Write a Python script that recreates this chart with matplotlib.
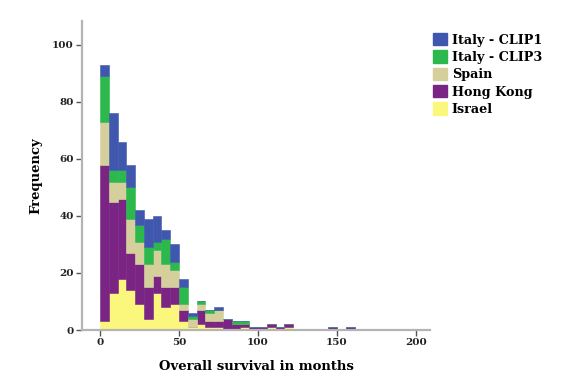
import numpy as np
import matplotlib
matplotlib.use("Agg")
import matplotlib.pyplot as plt
from matplotlib.patches import Patch

# Histogram bins (SPSS-style: 36 bins over 0-200 months)
bin_edges = np.linspace(0, 200, 37)

series_names = ["Italy - CLIP1", "Italy - CLIP3", "Spain", "Hong Kong", "Israel"]
colors = {"Italy - CLIP1": "#3f58ad", "Italy - CLIP3": "#2cb84c", "Spain": "#d5cf9b",
          "Hong Kong": "#7a2483", "Israel": "#fbf77c"}

israel = [3, 13, 18, 14, 9, 4, 13, 8, 9, 3, 1, 2, 1, 1, 0, 0, 1, 0, 0, 1, 0, 1, 0, 0, 0, 0, 0, 0, 0]
hong_kong = [55, 32, 28, 13, 14, 11, 6, 7, 6, 4, 0, 5, 2, 2, 4, 2, 1, 1, 1, 1, 1, 1, 0, 0, 0, 0, 1, 0, 1]
spain = [15, 7, 6, 12, 8, 8, 9, 8, 6, 2, 3, 2, 3, 4, 0, 0, 0, 0, 0, 0, 0, 0, 0, 0, 0, 0, 0, 0, 0]
clip3 = [16, 4, 4, 11, 6, 6, 3, 9, 3, 6, 1, 1, 1, 0, 0, 1, 1, 0, 0, 0, 0, 0, 0, 0, 0, 0, 0, 0, 0]
clip1 = [4, 20, 10, 8, 5, 10, 9, 3, 6, 3, 1, 0, 0, 1, 0, 0, 0, 0, 0, 0, 0, 0, 0, 0, 0, 0, 0, 0, 0]

x_ticks = [0, 50, 100, 150, 200]
y_ticks = [0, 20, 40, 60, 80, 100]

stack = [("Israel", israel), ("Hong Kong", hong_kong), ("Spain", spain),
         ("Italy - CLIP3", clip3), ("Italy - CLIP1", clip1)]

fig = plt.figure(figsize=(5.66, 3.77), dpi=100)
ax = fig.add_axes([82/566, 1-330/377, (430-82)/566, (330-21)/377])

width = bin_edges[1] - bin_edges[0]
n = len(israel)
lefts = bin_edges[:n]
bottom = np.zeros(n)
for name, vals in stack:
    v = np.array(vals, dtype=float)
    ax.bar(lefts, v, width=width, bottom=bottom, align="edge", color=colors[name],
           edgecolor=colors[name], linewidth=0.4)
    bottom += v

ax.set_xlim(-11.4, 208.9)
ax.set_ylim(0, 108.4)
ax.set_xticks(x_ticks)
ax.set_yticks(y_ticks)

for s in ["top", "right"]:
    ax.spines[s].set_visible(False)
for s in ["left", "bottom"]:
    ax.spines[s].set_color("#b4b4b4")
    ax.spines[s].set_linewidth(1.6)

font = {"family": "DejaVu Serif", "weight": "bold"}
ax.tick_params(axis="both", length=4, width=1, color="#555555", labelsize=7.5, pad=2)
for lab in ax.get_xticklabels() + ax.get_yticklabels():
    lab.set_fontfamily("DejaVu Serif")
    lab.set_fontweight("bold")
    lab.set_color("#222222")

ax.set_xlabel("Overall survival in months", fontsize=9.5, labelpad=9, **font)
ax.set_ylabel("Frequency", fontsize=9.5, labelpad=7, **font)

handles = [Patch(facecolor=colors[nm], edgecolor=colors[nm]) for nm in series_names]
fig.legend(handles, series_names, loc="upper left", bbox_to_anchor=(428/566, 1-28/377),
           frameon=False, handlelength=1.1, handleheight=1.1, handletextpad=0.35,
           labelspacing=0.3, borderaxespad=0,
           prop={"family": "DejaVu Serif", "weight": "bold", "size": 9.2})

fig.savefig("out.png", dpi=100)
